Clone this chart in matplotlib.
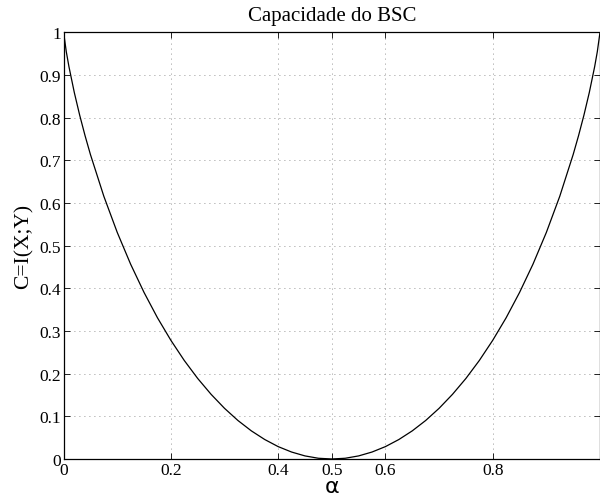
import matplotlib
matplotlib.use("Agg")
import matplotlib.pyplot as plt

# capacity of the BSC
alpha = [0.0, 0.005, 0.01, 0.02, 0.03, 0.04, 0.05, 0.075, 0.1, 0.125, 0.15, 0.175,
         0.2, 0.225, 0.25, 0.275, 0.3, 0.325, 0.35, 0.375, 0.4, 0.425, 0.45, 0.475,
         0.5,
         0.525, 0.55, 0.575, 0.6, 0.625, 0.65, 0.675, 0.7, 0.725, 0.75, 0.775,
         0.8, 0.825, 0.85, 0.875, 0.9, 0.925, 0.95, 0.96, 0.97, 0.98, 0.99, 0.995, 1.0]
capacity = [1.0, 0.9546, 0.9192, 0.8586, 0.8056, 0.7577, 0.7136, 0.6157, 0.5310, 0.4564,
            0.3902, 0.3309, 0.2781, 0.2308, 0.1887, 0.1515, 0.1187, 0.0902, 0.0659,
            0.0456, 0.0290, 0.0163, 0.0072, 0.0017,
            0.0,
            0.0017, 0.0072, 0.0163, 0.0290, 0.0456, 0.0659, 0.0902, 0.1187, 0.1515,
            0.1887, 0.2308, 0.2781, 0.3309, 0.3902, 0.4564, 0.5310, 0.6157, 0.7136,
            0.7577, 0.8056, 0.8586, 0.9192, 0.9546, 1.0]

x_ticks = [0, 0.2, 0.4, 0.5, 0.6, 0.8]
x_ticklabels = ["0", "0.2", "0.4", "0.5", "0.6", "0.8"]
y_ticks = [0, 0.1, 0.2, 0.3, 0.4, 0.5, 0.6, 0.7, 0.8, 0.9, 1.0]
y_ticklabels = ["0", "0.1", "0.2", "0.3", "0.4", "0.5", "0.6", "0.7", "0.8", "0.9", "1"]

serif = "Liberation Serif"

fig = plt.figure(figsize=(6.0, 5.02), dpi=100)
ax = fig.add_axes([0.106, 0.0837, 0.894, 0.85])

ax.plot(alpha, capacity, color="black", linewidth=0.9)

ax.set_xlim(0, 1)
ax.set_ylim(0, 1)
ax.set_xticks(x_ticks)
ax.set_xticklabels(x_ticklabels, family=serif, fontsize=12.5)
ax.set_yticks(y_ticks)
ax.set_yticklabels(y_ticklabels, family=serif, fontsize=12.5)
ax.tick_params(direction="in", top=True, right=True, length=4, width=0.6, pad=2)
ax.grid(True, linestyle=(0, (1, 5)), color="black", linewidth=0.6, alpha=0.55)
for s in ax.spines.values():
    s.set_linewidth(0.9)

ax.set_title("Capacidade do BSC", family=serif, fontsize=15, pad=9)
ax.set_xlabel("α", family="DejaVu Sans", fontsize=16, labelpad=-1)
ax.set_ylabel("C=I(X;Y)", family=serif, fontsize=15.5, labelpad=4)

fig.savefig("out.png", dpi=100)
